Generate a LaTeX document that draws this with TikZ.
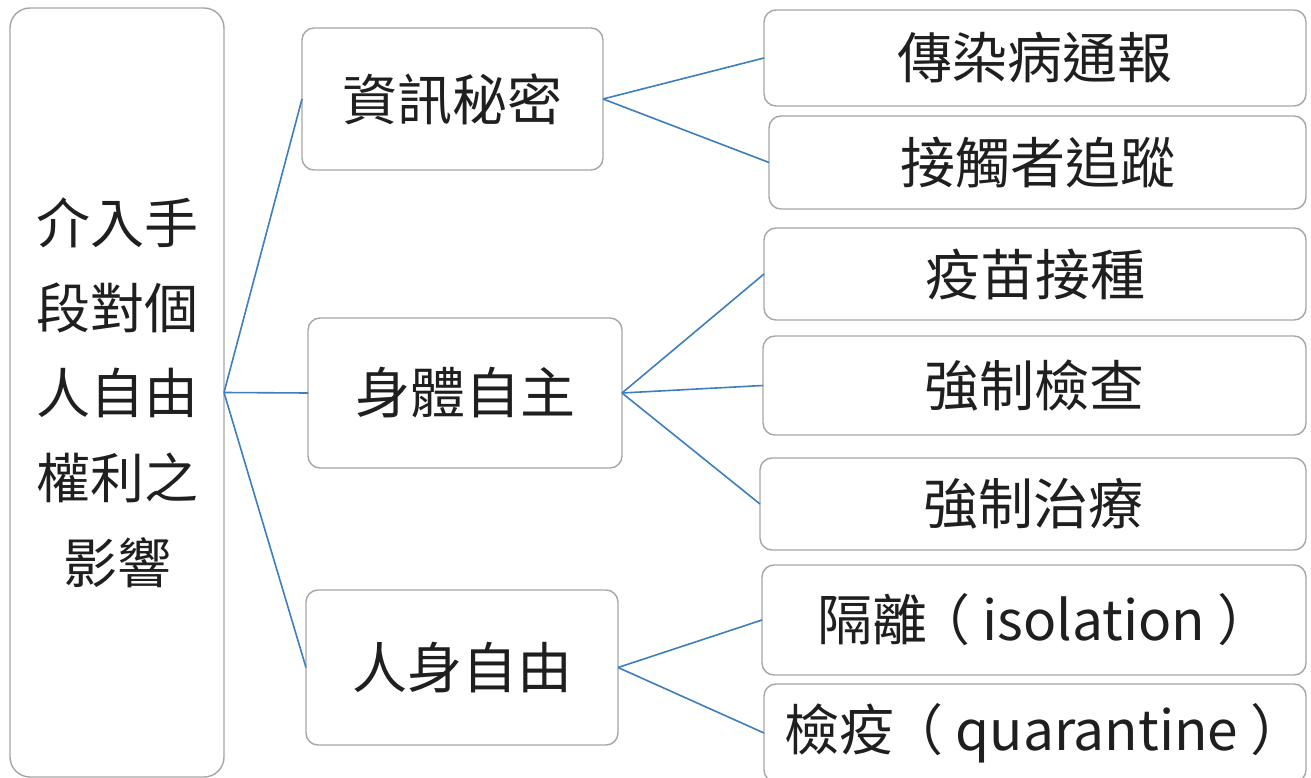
\documentclass[tikz,border=0pt]{standalone}
\usepackage{fontspec}
\setmainfont{Noto Sans CJK TC}
\begin{document}
\begin{tikzpicture}[x=1pt,y=-1pt,
  box/.style={draw=black!35, line width=1.4pt, rounded corners=12pt, fill=white, inner sep=0pt, outer sep=0pt, font=\fontsize{55}{60}\selectfont, text=black!88},
  link/.style={draw={rgb,255:red,62;green,125;blue,190}, line width=1.6pt}]
\useasboundingbox (0,0) rectangle (1311,778);
\node[box, rounded corners=20pt, minimum width=214, minimum height=769, align=center, font=\fontsize{54}{85}\selectfont] (root) at (117,392.5) {介入手\\段對個\\人自由\\權利之\\影響};
\node[box, minimum width=301, minimum height=142] (m1) at (452.5,99) {資訊秘密};
\node[box, minimum width=314, minimum height=150] (m2) at (465,393) {身體自主};
\node[box, minimum width=312, minimum height=155] (m3) at (462,667.5) {人身自由};
\node[box, minimum width=542, minimum height=96] (l1) at (1035,58) {傳染病通報};
\node[box, minimum width=537, minimum height=93] (l2) at (1037.5,162.5) {接觸者追蹤};
\node[box, minimum width=542, minimum height=92] (l3) at (1035,274) {疫苗接種};
\node[box, minimum width=543, minimum height=99] (l4) at (1034.5,385.5) {強制檢查};
\node[box, minimum width=546, minimum height=92] (l5) at (1033,504) {強制治療};
\node[box, minimum width=544, minimum height=110] (l6) at (1034,620) {\hspace{22pt}隔離\hspace{-12pt}（ isolation ）};
\node[box, minimum width=542, minimum height=98] (l7) at (1035,733) {\hspace{20pt}檢疫\hspace{-6pt}（ quarantine ）};
\draw[link] (root.east) -- (m1.west);
\draw[link] (root.east) -- (m2.west);
\draw[link] (root.east) -- (m3.west);
\draw[link] (m1.east) -- (l1.west);
\draw[link] (m1.east) -- (l2.west);
\draw[link] (m2.east) -- (l3.west);
\draw[link] (m2.east) -- (l4.west);
\draw[link] (m2.east) -- (l5.west);
\draw[link] (m3.east) -- (l6.west);
\draw[link] (m3.east) -- (l7.west);
\end{tikzpicture}
\end{document}
